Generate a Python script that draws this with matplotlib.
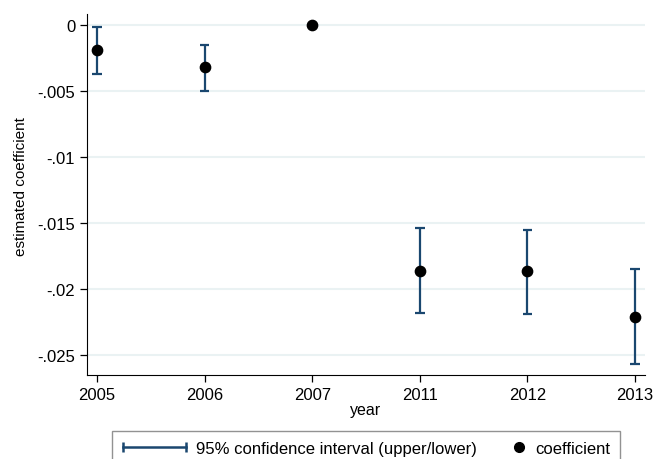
import matplotlib
matplotlib.use("Agg")
import matplotlib.pyplot as plt
from matplotlib.lines import Line2D
from matplotlib.legend_handler import HandlerLine2D

# values
years = ["2005", "2006", "2007", "2011", "2012", "2013"]
coef = [-0.0019, -0.0032, 0.0, -0.0186, -0.0186, -0.0221]
ci_upper = [-0.00015, -0.0015, None, -0.0154, -0.0155, -0.0185]
ci_lower = [-0.0037, -0.0050, None, -0.0218, -0.0219, -0.0257]
yticks = [0, -0.005, -0.01, -0.015, -0.02, -0.025]
ytick_labels = ["0", "-.005", "-.01", "-.015", "-.02", "-.025"]

navy = "#1a476f"
grid_col = "#eaf2f3"

plt.rcParams["font.family"] = ["Liberation Sans", "DejaVu Sans"]
plt.rcParams["font.size"] = 12


class RightMarkerHandler(HandlerLine2D):
    # put the legend dot near the text instead of in the middle of the handle
    def get_xdata(self, legend, xdescent, ydescent, width, height, fontsize):
        end = width - xdescent
        return [end - 12, end], [end - 6]


fig = plt.figure(figsize=(6.56, 4.6), dpi=100)
ax = fig.add_axes([87 / 656, 1 - 376 / 460, (645 - 87) / 656, (376 - 15) / 460])

x = list(range(len(years)))
for xi, lo, hi in zip(x, ci_lower, ci_upper):
    if lo is None:
        continue
    ax.vlines(xi, lo, hi, color=navy, lw=1.6, zorder=2)
    ax.hlines([lo, hi], xi - 0.045, xi + 0.045, color=navy, lw=1.6, zorder=2)
ax.scatter(x, coef, s=55, color="black", zorder=3)

ax.set_xlim(-0.093, 5.093)
ax.set_ylim(-0.0265, 0.00083)
ax.set_xticks(x)
ax.set_xticklabels(years)
ax.set_yticks(yticks)
ax.set_yticklabels(ytick_labels)
ax.yaxis.grid(True, color=grid_col, lw=1.5)
ax.set_axisbelow(True)
for side in ["top", "right"]:
    ax.spines[side].set_visible(False)
ax.tick_params(direction="out", length=5, width=0.9, colors="black", labelsize=12)
ax.set_xlabel("year", fontsize=11.5, labelpad=0)
ax.set_ylabel("estimated coefficient", fontsize=11)
ax.yaxis.set_label_coords(-0.106, 0.525)

ci_handle = Line2D([], [], color=navy, lw=1.8, marker="|", markersize=7,
                   markeredgewidth=1.8)
pt_handle = Line2D([], [], color="black", lw=0, marker="o", markersize=7)
leg = fig.legend([ci_handle, pt_handle],
                 ["95% confidence interval (upper/lower)", "coefficient"],
                 handler_map={ci_handle: HandlerLine2D(numpoints=2, marker_pad=0.1),
                              pt_handle: RightMarkerHandler(numpoints=1)},
                 loc="upper center", bbox_to_anchor=(366 / 656, 1 - 432 / 460),
                 ncol=2, frameon=True, fancybox=False, fontsize=12,
                 handlelength=3.98, columnspacing=-0.98, borderpad=0.6,
                 handletextpad=0.5, borderaxespad=0)
leg.get_frame().set_edgecolor("#777777")
leg.get_frame().set_linewidth(1.0)

fig.savefig("out.png", dpi=100)
